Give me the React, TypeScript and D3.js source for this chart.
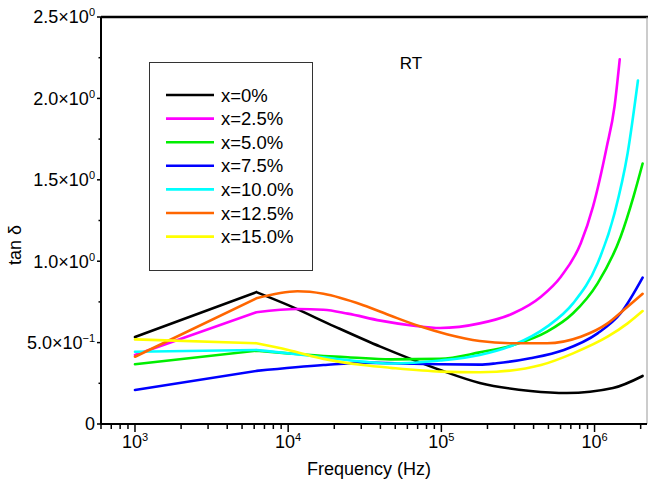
import React from "react";
import * as d3 from "d3";

const WIDTH = 648;
const HEIGHT = 487;
const MARGIN = { top: 17, right: 1, bottom: 63, left: 101 };

const LABELS = ["x=0%", "x=2.5%", "x=5.0%", "x=7.5%", "x=10.0%", "x=12.5%", "x=15.0%"];
const COLORS = ["#000000", "#ff00ff", "#00ee00", "#0000ff", "#00ffff", "#ff6600", "#ffff00"];

// frequency (Hz) / tan delta
const freq0 = [1000, 6200, 10000, 20000, 40000, 63000, 98000, 178000, 382000, 660000, 1320000, 2060000];
const tan0 = [0.534, 0.81, 0.73, 0.6, 0.475, 0.4, 0.332, 0.252, 0.203, 0.19, 0.221, 0.295];

const freq25 = [1000, 6200, 11500, 17000, 24500, 40000, 66000, 98000, 178000, 295000, 447000, 603000, 813000, 977000, 1200000, 1350000, 1460000];
const tan25 = [0.424, 0.686, 0.706, 0.702, 0.678, 0.635, 0.604, 0.59, 0.618, 0.68, 0.782, 0.905, 1.11, 1.335, 1.7, 1.95, 2.24];

const freq50 = [1000, 6200, 10000, 17000, 24500, 46800, 98000, 178000, 295000, 490000, 724000, 1047000, 1480000, 1800000, 2060000];
const tan50 = [0.367, 0.45, 0.434, 0.418, 0.41, 0.397, 0.4, 0.44, 0.485, 0.567, 0.68, 0.864, 1.15, 1.4, 1.6];

const freq75 = [1000, 6200, 17000, 30900, 66000, 98000, 178000, 229000, 380000, 631000, 1047000, 1480000, 2060000];
const tan75 = [0.209, 0.326, 0.362, 0.377, 0.37, 0.367, 0.365, 0.373, 0.404, 0.455, 0.557, 0.68, 0.899];

const freq100 = [1000, 6200, 12600, 30900, 46800, 98000, 178000, 295000, 490000, 724000, 1047000, 1350000, 1644000, 1920000];
const tan100 = [0.444, 0.455, 0.424, 0.383, 0.372, 0.39, 0.424, 0.485, 0.598, 0.741, 0.987, 1.294, 1.663, 2.11];

const freq125 = [1000, 6200, 11500, 17000, 30900, 46800, 72400, 110000, 178000, 295000, 490000, 813000, 1216000, 1550000, 2060000];
const tan125 = [0.413, 0.772, 0.815, 0.8, 0.73, 0.665, 0.6, 0.55, 0.51, 0.496, 0.496, 0.536, 0.618, 0.7, 0.8];

const freq150 = [1000, 6200, 10000, 17000, 30900, 46800, 100000, 178000, 229000, 447000, 724000, 1216000, 1644000, 2060000];
const tan150 = [0.52, 0.496, 0.455, 0.4, 0.362, 0.345, 0.322, 0.318, 0.321, 0.362, 0.434, 0.536, 0.618, 0.694];

const SERIES = [
  [freq0, tan0],
  [freq25, tan25],
  [freq50, tan50],
  [freq75, tan75],
  [freq100, tan100],
  [freq125, tan125],
  [freq150, tan150],
];

const X_MAJOR = [1e3, 1e4, 1e5, 1e6];
const X_EXP = ["3", "4", "5", "6"];
const Y_MAJOR = [0, 0.5, 1.0, 1.5, 2.0, 2.5];
const Y_MANT = ["0", "5.0", "1.0", "1.5", "2.0", "2.5"];
const Y_EXP = ["", "\u22121", "0", "0", "0", "0"];

const FONT = "'Liberation Sans', Arial, Helvetica, sans-serif";

const App = () => {
  const boundsW = WIDTH - MARGIN.left - MARGIN.right;
  const boundsH = HEIGHT - MARGIN.top - MARGIN.bottom;
  const left = MARGIN.left;
  const bottom = MARGIN.top + boundsH;
  const right = MARGIN.left + boundsW;

  const xScale = d3.scaleLog().domain([600, 2.2e6]).range([left, right]);
  const yScale = d3.scaleLinear().domain([0, 2.5]).range([bottom, MARGIN.top]);

  const minorX: number[] = [];
  for (let d = 100; d <= 1e6; d *= 10) {
    for (let k = 2; k <= 9; k++) {
      const v = d * k;
      if (v >= 600 && v <= 2.2e6) minorX.push(v);
    }
  }
  const minorY = d3.range(0.25, 2.5, 0.5);

  // low-frequency part is a straight segment, the rest is smooth
  const straight = d3
    .line<[number, number]>()
    .x((d) => xScale(d[0]))
    .y((d) => yScale(d[1]));
  const smooth = d3
    .line<[number, number]>()
    .x((d) => xScale(d[0]))
    .y((d) => yScale(d[1]))
    .curve(d3.curveMonotoneX);

  const pathFor = (fs: number[], ts: number[]) => {
    const pts = fs.map((f, j) => [f, ts[j]] as [number, number]);
    return (straight(pts.slice(0, 2)) || "") + (smooth(pts.slice(1)) || "");
  };

  return (
    <svg
      width={WIDTH}
      height={HEIGHT}
      style={{ position: "absolute", left: 0, top: 0, background: "#fff" }}
      fontFamily={FONT}
    >
      {/* curves */}
      {SERIES.map(([fs, ts], i) => (
        <path
          key={i}
          d={pathFor(fs, ts)}
          fill="none"
          stroke={COLORS[i]}
          strokeWidth={2.6}
          strokeLinejoin="round"
          strokeLinecap="round"
        />
      ))}

      {/* frame */}
      <line x1={left} x2={WIDTH} y1={MARGIN.top} y2={MARGIN.top} stroke="#000" strokeWidth={2.5} />
      <line x1={right} x2={right} y1={MARGIN.top} y2={bottom} stroke="#999" strokeWidth={1} />
      <line x1={left} x2={left} y1={MARGIN.top} y2={bottom} stroke="#000" strokeWidth={2} />
      <line x1={left} x2={right} y1={bottom} y2={bottom} stroke="#000" strokeWidth={2} />

      {/* x ticks */}
      {X_MAJOR.map((v, i) => (
        <g key={"xm" + i} transform={`translate(${xScale(v)},${bottom})`}>
          <line y1={0} y2={8} stroke="#000" strokeWidth={1.5} />
          <text y={24} textAnchor="middle" fontSize={18}>
            10
            <tspan dy={-7} fontSize={11}>
              {X_EXP[i]}
            </tspan>
          </text>
        </g>
      ))}
      {minorX.map((v, i) => (
        <line key={"xn" + i} x1={xScale(v)} x2={xScale(v)} y1={bottom} y2={bottom + 5} stroke="#000" strokeWidth={1.5} />
      ))}

      {/* y ticks */}
      {Y_MAJOR.map((v, i) => (
        <g key={"ym" + i} transform={`translate(${left},${yScale(v)})`}>
          <line x1={-4} x2={0} stroke="#000" strokeWidth={1.5} />
          <text x={-6} dy="0.36em" textAnchor="end" fontSize={18}>
            {Y_EXP[i] === "" ? (
              Y_MANT[i]
            ) : (
              <>
                {Y_MANT[i]}×10
                <tspan dy={-7} fontSize={11}>
                  {Y_EXP[i]}
                </tspan>
              </>
            )}
          </text>
        </g>
      ))}
      {minorY.map((v, i) => (
        <line key={"yn" + i} x1={left - 2.5} x2={left} y1={yScale(v)} y2={yScale(v)} stroke="#000" strokeWidth={1.5} />
      ))}

      {/* axis titles */}
      <text x={(left + right) / 2 - 5} y={475} textAnchor="middle" fontSize={18}>
        Frequency (Hz)
      </text>
      <text transform="translate(21,245) rotate(-90)" textAnchor="middle" fontSize={18}>
        tan δ
      </text>

      <text x={411} y={69} textAnchor="middle" fontSize={17}>
        RT
      </text>

      {/* legend */}
      <rect x={149.5} y={62.5} width={163} height={208} fill="#fff" stroke="#333" strokeWidth={1} />
      {LABELS.map((lab, i) => (
        <g key={"lg" + i} transform={`translate(166,${95 + i * 23.6})`}>
          <line x1={0} x2={48} stroke={COLORS[i]} strokeWidth={2.6} />
          <text x={55} dy="0.36em" fontSize={18.5}>
            {lab}
          </text>
        </g>
      ))}
    </svg>
  );
};

export default App;
